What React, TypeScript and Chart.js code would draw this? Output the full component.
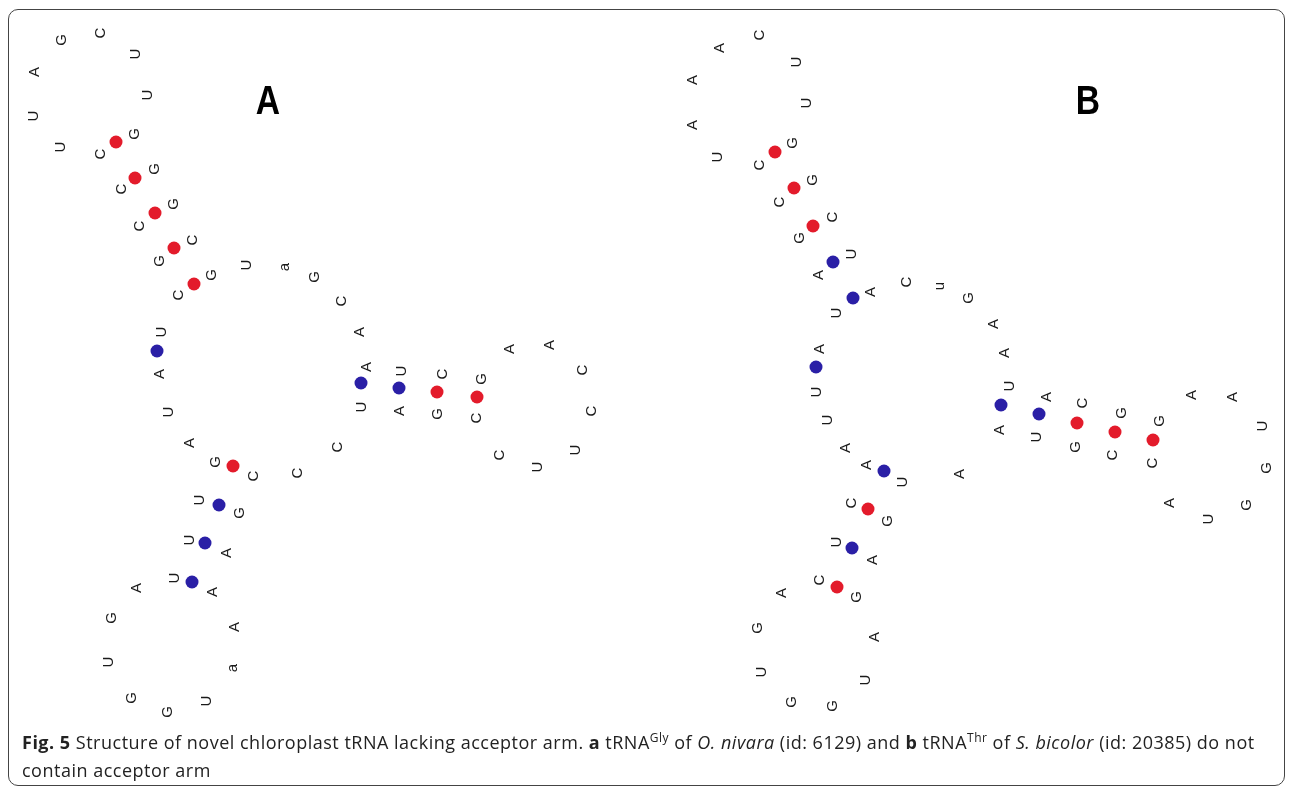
import React, { useEffect, useRef } from "react";
import { Chart, registerables } from "chart.js";

Chart.register(...registerables);

// Nucleotide letters: [base, x, y] in figure coordinates
const panelALetters: [string, number, number][] = [
  ["C", 101, 33], ["G", 62, 40], ["U", 136, 54], ["A", 35, 72], ["U", 148, 95], ["U", 34, 116], ["U", 61, 147], ["G", 135, 134], ["C", 101, 154],
  ["G", 155, 169], ["C", 122, 189],
  ["G", 174, 204], ["C", 140, 226],
  ["C", 193, 240], ["G", 160, 261],
  ["G", 212, 275], ["C", 179, 295],
  ["U", 247, 265], ["a", 285, 267], ["G", 315, 277], ["C", 342, 301], ["A", 360, 332],
  ["A", 367, 367], ["U", 362, 407],
  ["U", 402, 371], ["A", 400, 411],
  ["C", 443, 374], ["G", 438, 414],
  ["G", 482, 379], ["C", 477, 418],
  ["A", 510, 349], ["A", 550, 345], ["C", 583, 370], ["C", 592, 411], ["U", 576, 450], ["U", 538, 467], ["C", 500, 455],
  ["C", 338, 447], ["C", 298, 473],
  ["U", 162, 332], ["A", 160, 374], ["U", 169, 412], ["A", 190, 443], ["G", 216, 462], ["C", 254, 476],
  ["U", 200, 500], ["G", 240, 513],
  ["U", 190, 540], ["A", 227, 553],
  ["U", 175, 578], ["A", 213, 592],
  ["A", 137, 588], ["G", 112, 618], ["U", 109, 662], ["G", 132, 698], ["G", 168, 712], ["U", 207, 701], ["a", 233, 668], ["A", 235, 627],
];

const panelBLetters: [string, number, number][] = [
  ["C", 760, 35], ["A", 720, 48], ["U", 797, 62], ["A", 693, 80], ["U", 807, 103], ["A", 693, 125], ["U", 718, 157], ["G", 793, 143], ["C", 760, 165],
  ["G", 813, 180], ["C", 780, 202],
  ["C", 833, 217], ["G", 800, 238],
  ["U", 852, 254], ["A", 819, 275],
  ["A", 871, 292], ["U", 837, 313],
  ["C", 907, 282], ["u", 940, 286], ["G", 969, 298], ["A", 994, 324], ["A", 1005, 353],
  ["U", 1010, 386], ["A", 1000, 430],
  ["A", 1047, 397], ["U", 1037, 437],
  ["C", 1083, 403], ["G", 1076, 447],
  ["G", 1122, 413], ["C", 1113, 455],
  ["G", 1160, 421], ["C", 1153, 463],
  ["A", 1192, 395], ["A", 1233, 397], ["U", 1263, 426], ["G", 1267, 468], ["G", 1247, 505], ["U", 1209, 519], ["A", 1170, 503],
  ["A", 960, 474],
  ["A", 820, 349], ["U", 817, 392], ["U", 828, 420], ["A", 846, 448], ["A", 867, 465], ["U", 903, 482],
  ["C", 852, 503], ["G", 888, 521],
  ["U", 837, 542], ["A", 873, 560],
  ["C", 820, 580], ["G", 857, 597],
  ["A", 782, 593], ["G", 758, 628], ["U", 762, 672], ["G", 792, 702], ["G", 833, 706], ["U", 866, 680], ["A", 875, 637],
];

// Base-pair dots: GC pairs (red) and AU pairs (blue)
const redDotsA: [number, number][] = [[116, 142], [135, 178], [155, 213], [174, 248], [194, 284], [233, 466], [437, 392], [477, 397]];
const blueDotsA: [number, number][] = [[157, 351], [361, 383], [399, 388], [219, 505], [205, 543], [192, 582]];
const redDotsB: [number, number][] = [[775, 152], [794, 188], [813, 226], [1077, 423], [1115, 432], [1153, 440], [868, 509], [837, 587]];
const blueDotsB: [number, number][] = [[833, 262], [853, 298], [816, 367], [1001, 405], [1039, 414], [884, 471], [852, 548]];

const panelLabels: [string, number, number][] = [["A", 268, 103], ["B", 1088, 103]];

const RED = "#e31b2b";
const BLUE = "#2a1fa6";

const letterPlugin = {
  id: "letterPlugin",
  afterDatasetsDraw(chart: any) {
    const ctx = chart.ctx;
    chart.data.datasets.forEach((ds: any, i: number) => {
      if (!ds.labelsText) return;
      const meta = chart.getDatasetMeta(i);
      meta.data.forEach((el: any, j: number) => {
        const t = ds.labelsText[j];
        ctx.save();
        ctx.translate(el.x, el.y);
        if (ds.rotateText) ctx.rotate(-Math.PI / 2);
        ctx.font = ds.textFont;
        ctx.fillStyle = ds.textColor;
        ctx.textAlign = "center";
        ctx.textBaseline = "middle";
        if (ds.condense) ctx.scale(ds.condense, 1);
        ctx.fillText(t, 0, 0);
        ctx.restore();
      });
    });
  },
};

function toPts(arr: [number, number][]) {
  return arr.map(([x, y]) => ({ x, y }));
}

export default function App() {
  const ref = useRef<HTMLCanvasElement | null>(null);
  useEffect(() => {
    if (!ref.current) return;
    const letters = [...panelALetters, ...panelBLetters];
    const chart = new Chart(ref.current, {
      type: "scatter",
      data: {
        datasets: [
          {
            data: toPts([...redDotsA, ...redDotsB]),
            backgroundColor: RED,
            borderColor: RED,
            pointRadius: 6.5,
            borderWidth: 0,
          },
          {
            data: toPts([...blueDotsA, ...blueDotsB]),
            backgroundColor: BLUE,
            borderColor: BLUE,
            pointRadius: 6.5,
            borderWidth: 0,
          },
          {
            data: letters.map(([, x, y]) => ({ x, y })),
            pointRadius: 0,
            labelsText: letters.map(([t]) => t),
            rotateText: true,
            textFont: "15px 'Liberation Sans', Arial, sans-serif",
            textColor: "#1a1a1a",
          } as any,
          {
            data: panelLabels.map(([, x, y]) => ({ x, y })),
            pointRadius: 0,
            labelsText: panelLabels.map(([t]) => t),
            rotateText: false,
            textFont: "bold 41px 'Liberation Sans', Arial, sans-serif",
            textColor: "#000",
            condense: 0.82,
          } as any,
        ],
      },
      options: {
        animation: false,
        responsive: false,
        events: [],
        layout: { padding: 0, autoPadding: false } as any,
        plugins: { legend: { display: false }, tooltip: { enabled: false } },
        scales: {
          x: { type: "linear", min: 0, max: 1293, display: false, offset: false },
          y: { type: "linear", min: 0, max: 789, reverse: true, display: false, offset: false },
        },
        clip: false as any,
      },
      plugins: [letterPlugin],
    });
    return () => chart.destroy();
  }, []);

  return (
    <div style={{ position: "fixed", left: 0, top: 0, width: 1293, height: 789, background: "#fff", overflow: "hidden" }}>
      <canvas ref={ref} width={1293} height={789} style={{ position: "absolute", left: 0, top: 0 }} />
      <div
        style={{
          position: "absolute",
          left: 8,
          top: 9,
          width: 1275,
          height: 775,
          border: "1px solid #444",
          borderRadius: 10,
          pointerEvents: "none",
        }}
      />
      <div
        style={{
          position: "absolute",
          left: 22,
          top: 728,
          width: 1260,
          whiteSpace: "nowrap",
          fontFamily: "'Open Sans', sans-serif",
          fontSize: 18,
          lineHeight: "28px",
          color: "#222",
          letterSpacing: "0.5px",
        }}
      >
        <b>Fig. 5</b> Structure of novel chloroplast tRNA lacking acceptor arm. <b>a</b> tRNA
        <sup style={{ fontSize: 12, lineHeight: 0 }}>Gly</sup> of <i>O. nivara</i> (id: 6129) and <b>b</b> tRNA
        <sup style={{ fontSize: 12, lineHeight: 0 }}>Thr</sup> of <i>S. bicolor</i> (id: 20385) do not
        <br />
        contain acceptor arm
      </div>
    </div>
  );
}
